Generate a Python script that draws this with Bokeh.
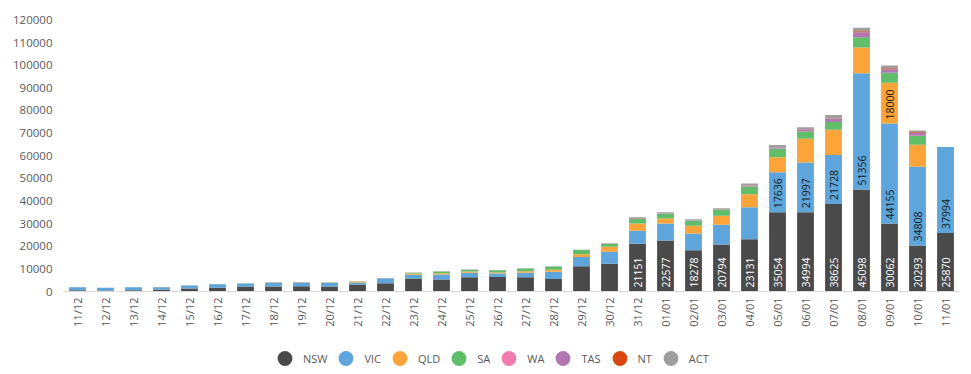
from math import pi
from bokeh.plotting import figure
from bokeh.layouts import column
from bokeh.models import (ColumnDataSource, Range1d, FactorRange, Legend, LegendItem,
                          FixedTicker, NumeralTickFormatter)
from bokeh.core.properties import value
from bokeh.embed import file_html
from bokeh.resources import INLINE

dates = ["11/12", "12/12", "13/12", "14/12", "15/12", "16/12", "17/12", "18/12",
         "19/12", "20/12", "21/12", "22/12", "23/12", "24/12", "25/12", "26/12",
         "27/12", "28/12", "29/12", "30/12", "31/12", "01/01", "02/01", "03/01",
         "04/01", "05/01", "06/01", "07/01", "08/01", "09/01", "10/01", "11/01"]

states = ["NSW", "VIC", "QLD", "SA", "WA", "TAS", "NT", "ACT"]
colors = ["#4a4a4a", "#5da5da", "#faa43a", "#60bd68", "#f17cb0", "#b276b2", "#d9480f", "#9e9e9e"]

nsw = [560, 485, 536, 804, 1360, 1700, 2250, 2250, 2300, 2250, 3057, 3600, 5715, 5300, 6288, 6394,
       6324, 5500, 11201, 12226, 21151, 22577, 18278, 20794, 23131, 35054, 34994, 38625, 45098, 30062,
       20293, 25870]
vic = [1290, 1150, 1360, 1100, 1290, 1500, 1300, 1750, 1700, 1600, 950, 2100, 1700, 2200, 2000, 1600,
       2000, 3200, 4000, 5300, 5750, 7500, 7300, 8700, 14100, 17636, 21997, 21728, 51356, 44155,
       34808, 37994]
qld = [5, 4, 9, 6, 16, 22, 30, 40, 50, 80, 400, 100, 500, 600, 600, 450, 600, 900, 1300, 2200, 3100,
       2200, 3500, 4000, 5700, 6600, 10500, 11100, 11350, 18000, 9700, 0]
sa = [10, 11, 12, 13, 19, 28, 35, 40, 60, 150, 100, 100, 400, 700, 750, 900, 1200, 1300, 1800, 1300,
      2200, 2100, 2200, 2500, 3500, 3900, 3200, 3500, 4600, 4400, 4000, 0]
wa = [0, 0, 0, 0, 0, 0, 0, 0, 0, 0, 0, 0, 0, 0, 0, 0, 0, 0, 0, 0,
      0, 2, 1, 0, 3, 5, 4, 4, 12, 8, 4, 0]
tas = [0, 0, 0, 1, 1, 2, 1, 0, 20, 10, 10, 15, 20, 40, 30, 20, 50, 60, 50, 50, 150, 150, 170, 180,
       400, 500, 900, 1300, 2200, 1600, 1300, 0]
nt = [2, 1, 0, 0, 0, 0, 0, 0, 0, 0, 0, 0, 2, 2, 1, 3, 3, 5, 20, 10, 100, 50, 70, 60, 100, 60, 90,
      190, 400, 400, 400, 0]
act = [10, 10, 7, 12, 23, 16, 24, 28, 20, 30, 30, 40, 50, 60, 60, 80, 100, 140, 130, 200, 400, 400,
       400, 600, 800, 1000, 900, 1500, 1500, 1200, 700, 0]

y_ticks = [0, 10000, 20000, 30000, 40000, 50000, 60000, 70000, 80000, 90000, 100000, 110000, 120000]
label_min = 17000

series = [nsw, vic, qld, sa, wa, tas, nt, act]
data = {"date": dates}
for s, vals in zip(states, series):
    data[s] = vals
source = ColumnDataSource(data)

FONT = "Open Sans"
TXT = "#595959"

p = figure(x_range=FactorRange(*dates, range_padding=0), y_range=Range1d(0, 123300),
           width=971, height=338, output_backend="svg", toolbar_location=None,
           min_border_left=63, min_border_right=12, min_border_top=12, min_border_bottom=47)
p.outline_line_color = None
p.xgrid.grid_line_color = None
p.ygrid.grid_line_color = None

p.vbar_stack(states, x="date", width=0.6, color=colors, line_color=None, source=source)

# segment labels
lx, ly, lt, lc = [], [], [], []
base = [0] * len(dates)
for s, vals in zip(states, series):
    for i, v in enumerate(vals):
        if v >= label_min:
            lx.append(dates[i])
            ly.append(base[i])
            lt.append(str(v))
            lc.append("#ffffff" if s == "NSW" else "#1a1a1a")
    base = [b + v for b, v in zip(base, vals)]
lsrc = ColumnDataSource(dict(x=lx, y=ly, text=lt, color=lc))
p.text(x="x", y="y", text="text", source=lsrc, angle=pi / 2, text_align="left",
       text_baseline="middle", y_offset=-4, text_color="color",
       text_font=value(FONT), text_font_size="10.5px")

# axes
p.yaxis.ticker = FixedTicker(ticks=y_ticks)
p.yaxis.formatter = NumeralTickFormatter(format="0")
p.yaxis.axis_line_color = None
p.yaxis.major_tick_line_color = None
p.yaxis.minor_tick_line_color = None
p.yaxis.major_tick_out = 0
p.yaxis.major_label_standoff = 11
p.yaxis.major_label_text_font = FONT
p.yaxis.major_label_text_font_size = "11.5px"
p.yaxis.major_label_text_color = TXT

p.xaxis.axis_line_color = "#d9d9d9"
p.xaxis.major_tick_line_color = None
p.xaxis.minor_tick_line_color = None
p.xaxis.major_tick_out = 0
p.xaxis.major_label_standoff = 6
p.xaxis.major_label_orientation = pi / 2
p.xaxis.major_label_text_font = FONT
p.xaxis.major_label_text_font_size = "11px"
p.xaxis.major_label_text_color = TXT

# legend strip below the chart, with circular markers
leg = figure(width=971, height=36, output_backend="svg", toolbar_location=None,
             x_axis_location=None, y_axis_location=None,
             x_range=Range1d(0, 1), y_range=Range1d(0, 1),
             min_border_left=0, min_border_right=0, min_border_top=0, min_border_bottom=0)
leg.outline_line_color = None
leg.grid.visible = False
nan = float("nan")
items = []
for s, c in zip(states, colors):
    r = leg.scatter(x=[nan], y=[nan], marker="circle", size=16, fill_color=c, line_color=None)
    items.append(LegendItem(label=s, renderers=[r]))
legend = Legend(items=items, orientation="horizontal", location=(203, -4),
                glyph_width=37, glyph_height=40, label_standoff=0, spacing=0,
                padding=0, margin=0, label_width=0,
                label_text_font=FONT, label_text_font_size="11px", label_text_color=TXT,
                border_line_color=None, background_fill_alpha=0)
leg.add_layout(legend)

layout = column(p, leg, spacing=0)
open("out.html", "w").write(file_html(layout, INLINE))
